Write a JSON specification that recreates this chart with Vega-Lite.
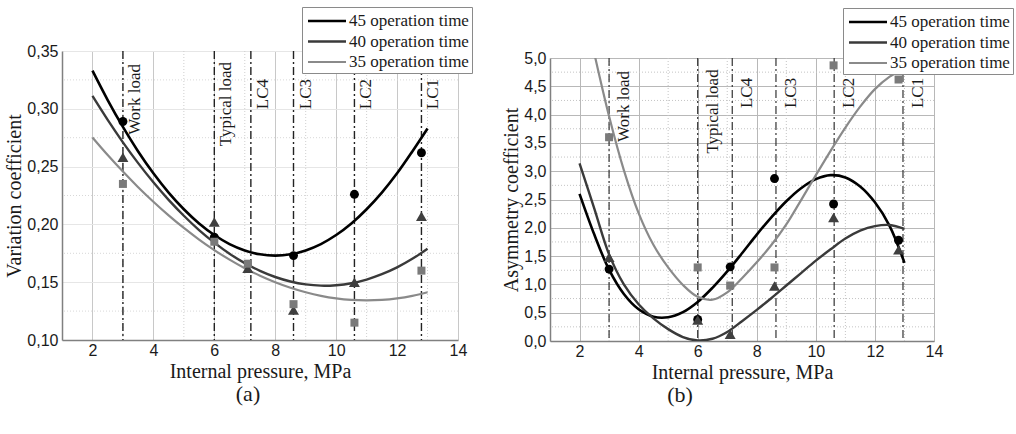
{
"$schema": "https://vega.github.io/schema/vega-lite/v6.json",
"background": "white",
"padding": {"left": 4, "top": 6, "right": 5, "bottom": 5},
"config": {
 "view": {"stroke": null},
 "axis": {"labelFont": "Liberation Sans", "labelFontSize": 16, "labelColor": "#1a1a1a", "titleFont": "Liberation Serif", "titleFontSize": 20, "titleFontWeight": "normal", "titleColor": "#1a1a1a", "domainColor": "#808080", "domainWidth": 1.5, "ticks": false, "labelPadding": 4, "titlePadding": 2},
 "axisX": {"labelPadding": 2, "titlePadding": 3},
 "legend": {"labelFont": "Liberation Serif", "labelFontSize": 17, "labelColor": "#1a1a1a", "symbolType": "M-2,0H2", "symbolSize": 361, "symbolStrokeWidth": 2.4, "symbolOffset": 11, "fillColor": "white", "strokeColor": "#8a8a8a", "padding": 3, "rowPadding": 1.5, "labelOffset": 11, "title": null, "orient": "none"},
 "title": {"font": "Liberation Serif", "fontSize": 22, "fontWeight": "normal", "color": "#1a1a1a"}
},
"datasets": {
 "lgx": [{"x": 3}, {"x": 5}, {"x": 7}, {"x": 9}, {"x": 11}, {"x": 13}],
 "lgy": [{"y": 0.125}, {"y": 0.175}, {"y": 0.225}, {"y": 0.275}, {"y": 0.325}],
 "rgx": [{"x": 3}, {"x": 5}, {"x": 7}, {"x": 9}, {"x": 11}, {"x": 13}],
 "rgy": [{"y": 0.25}, {"y": 0.75}, {"y": 1.25}, {"y": 1.75}, {"y": 2.25}, {"y": 2.75}, {"y": 3.25}, {"y": 3.75}, {"y": 4.25}, {"y": 4.75}],
 "lload": [
  {"x": 3, "y": 0.3388, "label": "Work load"},
  {"x": 6, "y": 0.3405, "label": "Typical load"},
  {"x": 7.2, "y": 0.3258, "label": "LC4"},
  {"x": 8.6, "y": 0.3258, "label": "LC3"},
  {"x": 10.6, "y": 0.3258, "label": "LC2"},
  {"x": 12.8, "y": 0.3258, "label": "LC1"}
 ],
 "rload": [
  {"x": 3, "y": 4.77, "label": "Work load"},
  {"x": 6, "y": 4.8, "label": "Typical load"},
  {"x": 7.17, "y": 4.65, "label": "LC4"},
  {"x": 8.65, "y": 4.65, "label": "LC3"},
  {"x": 10.62, "y": 4.65, "label": "LC2"},
  {"x": 12.95, "y": 4.65, "label": "LC1"}
 ],
 "lp": [
  {"g": "45", "x": 3, "y": 0.289}, {"g": "45", "x": 6, "y": 0.189}, {"g": "45", "x": 8.6, "y": 0.173}, {"g": "45", "x": 10.6, "y": 0.226}, {"g": "45", "x": 12.8, "y": 0.262},
  {"g": "40", "x": 3, "y": 0.258}, {"g": "40", "x": 6, "y": 0.202}, {"g": "40", "x": 7.1, "y": 0.162}, {"g": "40", "x": 8.6, "y": 0.126}, {"g": "40", "x": 10.6, "y": 0.150}, {"g": "40", "x": 12.8, "y": 0.207},
  {"g": "35", "x": 3, "y": 0.235}, {"g": "35", "x": 6, "y": 0.185}, {"g": "35", "x": 7.1, "y": 0.166}, {"g": "35", "x": 8.6, "y": 0.131}, {"g": "35", "x": 10.6, "y": 0.115}, {"g": "35", "x": 12.8, "y": 0.160}
 ],
 "rp": [
  {"g": "45", "x": 3, "y": 1.27}, {"g": "45", "x": 6, "y": 0.38}, {"g": "45", "x": 7.1, "y": 1.31}, {"g": "45", "x": 8.6, "y": 2.87}, {"g": "45", "x": 10.6, "y": 2.42}, {"g": "45", "x": 12.8, "y": 1.78},
  {"g": "40", "x": 3, "y": 1.48}, {"g": "40", "x": 6, "y": 0.37}, {"g": "40", "x": 7.1, "y": 0.12}, {"g": "40", "x": 8.6, "y": 0.97}, {"g": "40", "x": 10.6, "y": 2.18}, {"g": "40", "x": 12.8, "y": 1.61},
  {"g": "35", "x": 3, "y": 3.60}, {"g": "35", "x": 6, "y": 1.30}, {"g": "35", "x": 7.1, "y": 0.98}, {"g": "35", "x": 8.6, "y": 1.30}, {"g": "35", "x": 10.6, "y": 4.87}, {"g": "35", "x": 12.8, "y": 4.62}
 ],
 "lc": [
  {"s": "45 operation time", "x": 2, "y": 0.3330}, {"s": "45 operation time", "x": 2.5, "y": 0.3076}, {"s": "45 operation time", "x": 3, "y": 0.2843}, {"s": "45 operation time", "x": 3.5, "y": 0.2631}, {"s": "45 operation time", "x": 4, "y": 0.2442}, {"s": "45 operation time", "x": 4.5, "y": 0.2275}, {"s": "45 operation time", "x": 5, "y": 0.2131}, {"s": "45 operation time", "x": 5.5, "y": 0.2008}, {"s": "45 operation time", "x": 6, "y": 0.1908}, {"s": "45 operation time", "x": 6.5, "y": 0.1830}, {"s": "45 operation time", "x": 7, "y": 0.1775}, {"s": "45 operation time", "x": 7.5, "y": 0.1741}, {"s": "45 operation time", "x": 8, "y": 0.1730}, {"s": "45 operation time", "x": 8.5, "y": 0.1741}, {"s": "45 operation time", "x": 9, "y": 0.1775}, {"s": "45 operation time", "x": 9.5, "y": 0.1830}, {"s": "45 operation time", "x": 10, "y": 0.1908}, {"s": "45 operation time", "x": 10.5, "y": 0.2008}, {"s": "45 operation time", "x": 11, "y": 0.2131}, {"s": "45 operation time", "x": 11.5, "y": 0.2275}, {"s": "45 operation time", "x": 12, "y": 0.2442}, {"s": "45 operation time", "x": 12.5, "y": 0.2631}, {"s": "45 operation time", "x": 13, "y": 0.2830},
  {"s": "40 operation time", "x": 2, "y": 0.3111}, {"s": "40 operation time", "x": 2.5, "y": 0.2904}, {"s": "40 operation time", "x": 3, "y": 0.2710}, {"s": "40 operation time", "x": 3.5, "y": 0.2530}, {"s": "40 operation time", "x": 4, "y": 0.2364}, {"s": "40 operation time", "x": 4.5, "y": 0.2212}, {"s": "40 operation time", "x": 5, "y": 0.2075}, {"s": "40 operation time", "x": 5.5, "y": 0.1951}, {"s": "40 operation time", "x": 6, "y": 0.1842}, {"s": "40 operation time", "x": 6.5, "y": 0.1746}, {"s": "40 operation time", "x": 7, "y": 0.1665}, {"s": "40 operation time", "x": 7.5, "y": 0.1598}, {"s": "40 operation time", "x": 8, "y": 0.1545}, {"s": "40 operation time", "x": 8.5, "y": 0.1506}, {"s": "40 operation time", "x": 9, "y": 0.1481}, {"s": "40 operation time", "x": 9.5, "y": 0.1470}, {"s": "40 operation time", "x": 10, "y": 0.1474}, {"s": "40 operation time", "x": 10.5, "y": 0.1491}, {"s": "40 operation time", "x": 11, "y": 0.1523}, {"s": "40 operation time", "x": 11.5, "y": 0.1569}, {"s": "40 operation time", "x": 12, "y": 0.1628}, {"s": "40 operation time", "x": 12.5, "y": 0.1702}, {"s": "40 operation time", "x": 13, "y": 0.1790},
  {"s": "35 operation time", "x": 2, "y": 0.2752}, {"s": "35 operation time", "x": 2.5, "y": 0.2600}, {"s": "35 operation time", "x": 3, "y": 0.2457}, {"s": "35 operation time", "x": 3.5, "y": 0.2322}, {"s": "35 operation time", "x": 4, "y": 0.2196}, {"s": "35 operation time", "x": 4.5, "y": 0.2078}, {"s": "35 operation time", "x": 5, "y": 0.1969}, {"s": "35 operation time", "x": 5.5, "y": 0.1869}, {"s": "35 operation time", "x": 6, "y": 0.1778}, {"s": "35 operation time", "x": 6.5, "y": 0.1695}, {"s": "35 operation time", "x": 7, "y": 0.1621}, {"s": "35 operation time", "x": 7.5, "y": 0.1556}, {"s": "35 operation time", "x": 8, "y": 0.1500}, {"s": "35 operation time", "x": 8.5, "y": 0.1452}, {"s": "35 operation time", "x": 9, "y": 0.1413}, {"s": "35 operation time", "x": 9.5, "y": 0.1382}, {"s": "35 operation time", "x": 10, "y": 0.1360}, {"s": "35 operation time", "x": 10.5, "y": 0.1347}, {"s": "35 operation time", "x": 11, "y": 0.1343}, {"s": "35 operation time", "x": 11.5, "y": 0.1347}, {"s": "35 operation time", "x": 12, "y": 0.1360}, {"s": "35 operation time", "x": 12.5, "y": 0.1382}, {"s": "35 operation time", "x": 13, "y": 0.1413}
 ],
 "rc": [
  {"s": "45 operation time", "x": 2, "y": 2.60}, {"s": "45 operation time", "x": 2.5, "y": 1.88}, {"s": "45 operation time", "x": 3, "y": 1.26}, {"s": "45 operation time", "x": 3.5, "y": 0.83}, {"s": "45 operation time", "x": 4, "y": 0.56}, {"s": "45 operation time", "x": 4.5, "y": 0.43}, {"s": "45 operation time", "x": 5, "y": 0.42}, {"s": "45 operation time", "x": 5.5, "y": 0.51}, {"s": "45 operation time", "x": 6, "y": 0.69}, {"s": "45 operation time", "x": 6.5, "y": 0.94}, {"s": "45 operation time", "x": 7, "y": 1.23}, {"s": "45 operation time", "x": 7.5, "y": 1.55}, {"s": "45 operation time", "x": 8, "y": 1.88}, {"s": "45 operation time", "x": 8.5, "y": 2.19}, {"s": "45 operation time", "x": 9, "y": 2.47}, {"s": "45 operation time", "x": 9.5, "y": 2.70}, {"s": "45 operation time", "x": 10, "y": 2.86}, {"s": "45 operation time", "x": 10.5, "y": 2.93}, {"s": "45 operation time", "x": 11, "y": 2.89}, {"s": "45 operation time", "x": 11.5, "y": 2.73}, {"s": "45 operation time", "x": 12, "y": 2.45}, {"s": "45 operation time", "x": 12.5, "y": 2.03}, {"s": "45 operation time", "x": 13, "y": 1.38},
  {"s": "40 operation time", "x": 2, "y": 3.14}, {"s": "40 operation time", "x": 2.5, "y": 2.34}, {"s": "40 operation time", "x": 3, "y": 1.53}, {"s": "40 operation time", "x": 3.5, "y": 1.00}, {"s": "40 operation time", "x": 4, "y": 0.65}, {"s": "40 operation time", "x": 4.5, "y": 0.40}, {"s": "40 operation time", "x": 5, "y": 0.21}, {"s": "40 operation time", "x": 5.5, "y": 0.07}, {"s": "40 operation time", "x": 6, "y": 0.01}, {"s": "40 operation time", "x": 6.5, "y": 0.04}, {"s": "40 operation time", "x": 7, "y": 0.16}, {"s": "40 operation time", "x": 7.5, "y": 0.35}, {"s": "40 operation time", "x": 8, "y": 0.55}, {"s": "40 operation time", "x": 8.5, "y": 0.76}, {"s": "40 operation time", "x": 9, "y": 0.98}, {"s": "40 operation time", "x": 9.5, "y": 1.20}, {"s": "40 operation time", "x": 10, "y": 1.42}, {"s": "40 operation time", "x": 10.5, "y": 1.62}, {"s": "40 operation time", "x": 11, "y": 1.81}, {"s": "40 operation time", "x": 11.5, "y": 1.95}, {"s": "40 operation time", "x": 12, "y": 2.03}, {"s": "40 operation time", "x": 12.5, "y": 2.05}, {"s": "40 operation time", "x": 13, "y": 1.98},
  {"s": "35 operation time", "x": 2.5, "y": 5.08}, {"s": "35 operation time", "x": 3, "y": 3.97}, {"s": "35 operation time", "x": 3.5, "y": 3.02}, {"s": "35 operation time", "x": 4, "y": 2.26}, {"s": "35 operation time", "x": 4.5, "y": 1.70}, {"s": "35 operation time", "x": 5, "y": 1.30}, {"s": "35 operation time", "x": 5.5, "y": 0.99}, {"s": "35 operation time", "x": 6, "y": 0.78}, {"s": "35 operation time", "x": 6.5, "y": 0.73}, {"s": "35 operation time", "x": 7, "y": 0.86}, {"s": "35 operation time", "x": 7.5, "y": 1.11}, {"s": "35 operation time", "x": 8, "y": 1.39}, {"s": "35 operation time", "x": 8.5, "y": 1.70}, {"s": "35 operation time", "x": 9, "y": 2.06}, {"s": "35 operation time", "x": 9.5, "y": 2.49}, {"s": "35 operation time", "x": 10, "y": 2.93}, {"s": "35 operation time", "x": 10.5, "y": 3.36}, {"s": "35 operation time", "x": 11, "y": 3.77}, {"s": "35 operation time", "x": 11.5, "y": 4.14}, {"s": "35 operation time", "x": 12, "y": 4.45}, {"s": "35 operation time", "x": 12.5, "y": 4.67}, {"s": "35 operation time", "x": 13, "y": 4.82}
 ]
},
"bounds": "flush",
"spacing": 92,
"resolve": {"scale": {"x": "independent", "y": "independent", "color": "independent", "strokeWidth": "independent"}, "legend": {"color": "independent"}},
"hconcat": [
 {
  "width": 396, "height": 289,
  "title": {"text": "(a)", "orient": "bottom", "anchor": "middle", "dx": -12, "offset": 3},
  "layer": [
   {"data": {"name": "lgx"}, "mark": {"type": "rule", "color": "#cfcfcf", "strokeDash": [1, 2], "strokeWidth": 1},
    "encoding": {"x": {"field": "x", "type": "quantitative", "scale": {"domain": [1, 14], "nice": false, "zero": false}, "axis": {"values": [2, 4, 6, 8, 10, 12, 14], "grid": true, "gridColor": "#c8c8c8", "title": "Internal pressure, MPa", "labelFlush": false}}}},
   {"data": {"name": "lgy"}, "mark": {"type": "rule", "color": "#d8d8d8", "strokeDash": [1, 2], "strokeWidth": 1},
    "encoding": {"y": {"field": "y", "type": "quantitative", "scale": {"domain": [0.1, 0.35], "nice": false, "zero": false}, "axis": {"values": [0.1, 0.15, 0.2, 0.25, 0.3, 0.35], "grid": true, "gridColor": "#e6e6e6", "title": "Variation coefficient", "labelFlush": false, "labelExpr": "replace(format(datum.value, '.2f'), '.', ',')"}}}},
   {"data": {"name": "lload"}, "mark": {"type": "rule", "color": "#222222", "strokeWidth": 1.4, "strokeDash": [8, 3, 2, 3]},
    "encoding": {"x": {"field": "x", "type": "quantitative", "scale": {"domain": [1, 14], "nice": false, "zero": false}, "axis": {"values": [2, 4, 6, 8, 10, 12, 14], "grid": true, "gridColor": "#c8c8c8", "title": "Internal pressure, MPa", "labelFlush": false}}}},
   {"data": {"name": "lload"}, "mark": {"type": "text", "angle": 270, "align": "right", "baseline": "top", "font": "Liberation Serif", "fontSize": 17, "dy": 4, "color": "#1a1a1a"},
    "encoding": {"x": {"field": "x", "type": "quantitative", "scale": {"domain": [1, 14], "nice": false, "zero": false}, "axis": {"values": [2, 4, 6, 8, 10, 12, 14], "grid": true, "gridColor": "#c8c8c8", "title": "Internal pressure, MPa", "labelFlush": false}}, "y": {"field": "y", "type": "quantitative", "scale": {"domain": [0.1, 0.35], "nice": false, "zero": false}, "axis": {"values": [0.1, 0.15, 0.2, 0.25, 0.3, 0.35], "grid": true, "gridColor": "#e6e6e6", "title": "Variation coefficient", "labelFlush": false, "labelExpr": "replace(format(datum.value, '.2f'), '.', ',')"}}, "text": {"field": "label"}}},
   {"data": {"name": "lc"}, "mark": {"type": "line", "interpolate": "catmull-rom", "clip": true},
    "encoding": {
     "x": {"field": "x", "type": "quantitative", "scale": {"domain": [1, 14], "nice": false, "zero": false}, "axis": {"values": [2, 4, 6, 8, 10, 12, 14], "grid": true, "gridColor": "#c8c8c8", "title": "Internal pressure, MPa", "labelFlush": false}},
     "y": {"field": "y", "type": "quantitative", "scale": {"domain": [0.1, 0.35], "nice": false, "zero": false}, "axis": {"values": [0.1, 0.15, 0.2, 0.25, 0.3, 0.35], "grid": true, "gridColor": "#e6e6e6", "title": "Variation coefficient", "labelFlush": false, "labelExpr": "replace(format(datum.value, '.2f'), '.', ',')"}},
     "color": {"field": "s", "type": "nominal", "scale": {"domain": ["45 operation time", "40 operation time", "35 operation time"], "range": ["#000000", "#3a3a3a", "#8a8a8a"]}, "legend": {"orient": "none", "legendX": 240, "legendY": -44, "title": null}},
     "strokeWidth": {"field": "s", "type": "nominal", "scale": {"domain": ["45 operation time", "40 operation time", "35 operation time"], "range": [2.6, 2.2, 2.2]}, "legend": null}
    }},
   {"data": {"name": "lp"}, "transform": [{"filter": "datum.g == '45'"}], "mark": {"type": "point", "shape": "circle", "filled": true, "opacity": 1, "size": 80, "color": "#000000"},
    "encoding": {
     "x": {"field": "x", "type": "quantitative", "scale": {"domain": [1, 14], "nice": false, "zero": false}, "axis": {"values": [2, 4, 6, 8, 10, 12, 14], "grid": true, "gridColor": "#c8c8c8", "title": "Internal pressure, MPa", "labelFlush": false}},
     "y": {"field": "y", "type": "quantitative", "scale": {"domain": [0.1, 0.35], "nice": false, "zero": false}, "axis": {"values": [0.1, 0.15, 0.2, 0.25, 0.3, 0.35], "grid": true, "gridColor": "#e6e6e6", "title": "Variation coefficient", "labelFlush": false, "labelExpr": "replace(format(datum.value, '.2f'), '.', ',')"}}
    }},
   {"data": {"name": "lp"}, "transform": [{"filter": "datum.g == '40'"}], "mark": {"type": "point", "shape": "triangle-up", "filled": true, "opacity": 1, "size": 120, "color": "#3f3f3f"},
    "encoding": {
     "x": {"field": "x", "type": "quantitative", "scale": {"domain": [1, 14], "nice": false, "zero": false}, "axis": {"values": [2, 4, 6, 8, 10, 12, 14], "grid": true, "gridColor": "#c8c8c8", "title": "Internal pressure, MPa", "labelFlush": false}},
     "y": {"field": "y", "type": "quantitative", "scale": {"domain": [0.1, 0.35], "nice": false, "zero": false}, "axis": {"values": [0.1, 0.15, 0.2, 0.25, 0.3, 0.35], "grid": true, "gridColor": "#e6e6e6", "title": "Variation coefficient", "labelFlush": false, "labelExpr": "replace(format(datum.value, '.2f'), '.', ',')"}}
    }},
   {"data": {"name": "lp"}, "transform": [{"filter": "datum.g == '35'"}], "mark": {"type": "point", "shape": "square", "filled": true, "opacity": 1, "size": 64, "color": "#7a7a7a"},
    "encoding": {
     "x": {"field": "x", "type": "quantitative", "scale": {"domain": [1, 14], "nice": false, "zero": false}, "axis": {"values": [2, 4, 6, 8, 10, 12, 14], "grid": true, "gridColor": "#c8c8c8", "title": "Internal pressure, MPa", "labelFlush": false}},
     "y": {"field": "y", "type": "quantitative", "scale": {"domain": [0.1, 0.35], "nice": false, "zero": false}, "axis": {"values": [0.1, 0.15, 0.2, 0.25, 0.3, 0.35], "grid": true, "gridColor": "#e6e6e6", "title": "Variation coefficient", "labelFlush": false, "labelExpr": "replace(format(datum.value, '.2f'), '.', ',')"}}
    }}
  ]
 },
 {
  "vconcat": [
   {"width": 384, "height": 7, "data": {"values": []}, "mark": {"type": "rule"}, "encoding": {}},
   {
    "width": 384, "height": 283,
    "title": {"text": "(b)", "orient": "bottom", "anchor": "middle", "dx": -62, "offset": 3},
    "layer": [
     {"data": {"name": "rgx"}, "mark": {"type": "rule", "color": "#c4c4c4", "strokeDash": [1, 2], "strokeWidth": 1},
      "encoding": {"x": {"field": "x", "type": "quantitative", "scale": {"domain": [1, 14], "nice": false, "zero": false}, "axis": {"values": [2, 4, 6, 8, 10, 12, 14], "grid": true, "gridColor": "#b8b8b8", "title": "Internal pressure, MPa", "labelFlush": false}}}},
     {"data": {"name": "rgy"}, "mark": {"type": "rule", "color": "#c4c4c4", "strokeDash": [1, 2], "strokeWidth": 1},
      "encoding": {"y": {"field": "y", "type": "quantitative", "scale": {"domain": [0, 5], "nice": false, "zero": false}, "axis": {"values": [0, 0.5, 1, 1.5, 2, 2.5, 3, 3.5, 4, 4.5, 5], "grid": true, "gridColor": "#b8b8b8", "title": "Asymmetry coefficient", "labelFlush": false, "labelExpr": "replace(format(datum.value, '.1f'), '.', ',')"}}}},
     {"data": {"name": "rload"}, "mark": {"type": "rule", "color": "#333333", "strokeWidth": 1.2, "strokeDash": [8, 3, 2, 3]},
      "encoding": {"x": {"field": "x", "type": "quantitative", "scale": {"domain": [1, 14], "nice": false, "zero": false}, "axis": {"values": [2, 4, 6, 8, 10, 12, 14], "grid": true, "gridColor": "#b8b8b8", "title": "Internal pressure, MPa", "labelFlush": false}}}},
     {"data": {"name": "rload"}, "mark": {"type": "text", "angle": 270, "align": "right", "baseline": "top", "font": "Liberation Serif", "fontSize": 17, "dy": 7, "color": "#1a1a1a"},
      "encoding": {"x": {"field": "x", "type": "quantitative", "scale": {"domain": [1, 14], "nice": false, "zero": false}, "axis": {"values": [2, 4, 6, 8, 10, 12, 14], "grid": true, "gridColor": "#b8b8b8", "title": "Internal pressure, MPa", "labelFlush": false}}, "y": {"field": "y", "type": "quantitative", "scale": {"domain": [0, 5], "nice": false, "zero": false}, "axis": {"values": [0, 0.5, 1, 1.5, 2, 2.5, 3, 3.5, 4, 4.5, 5], "grid": true, "gridColor": "#b8b8b8", "title": "Asymmetry coefficient", "labelFlush": false, "labelExpr": "replace(format(datum.value, '.1f'), '.', ',')"}}, "text": {"field": "label"}}},
     {"data": {"name": "rc"}, "mark": {"type": "line", "interpolate": "catmull-rom", "clip": true},
      "encoding": {
       "x": {"field": "x", "type": "quantitative", "scale": {"domain": [1, 14], "nice": false, "zero": false}, "axis": {"values": [2, 4, 6, 8, 10, 12, 14], "grid": true, "gridColor": "#b8b8b8", "title": "Internal pressure, MPa", "labelFlush": false}},
       "y": {"field": "y", "type": "quantitative", "scale": {"domain": [0, 5], "nice": false, "zero": false}, "axis": {"values": [0, 0.5, 1, 1.5, 2, 2.5, 3, 3.5, 4, 4.5, 5], "grid": true, "gridColor": "#b8b8b8", "title": "Asymmetry coefficient", "labelFlush": false, "labelExpr": "replace(format(datum.value, '.1f'), '.', ',')"}},
       "color": {"field": "s", "type": "nominal", "scale": {"domain": ["45 operation time", "40 operation time", "35 operation time"], "range": ["#000000", "#3a3a3a", "#8a8a8a"]}, "legend": {"orient": "none", "legendX": 293, "legendY": -43, "title": null}},
       "strokeWidth": {"field": "s", "type": "nominal", "scale": {"domain": ["45 operation time", "40 operation time", "35 operation time"], "range": [2.6, 2.2, 2.2]}, "legend": null}
      }},
     {"data": {"name": "rp"}, "transform": [{"filter": "datum.g == '45'"}], "mark": {"type": "point", "shape": "circle", "filled": true, "opacity": 1, "size": 80, "color": "#000000"},
      "encoding": {
       "x": {"field": "x", "type": "quantitative", "scale": {"domain": [1, 14], "nice": false, "zero": false}, "axis": {"values": [2, 4, 6, 8, 10, 12, 14], "grid": true, "gridColor": "#b8b8b8", "title": "Internal pressure, MPa", "labelFlush": false}},
       "y": {"field": "y", "type": "quantitative", "scale": {"domain": [0, 5], "nice": false, "zero": false}, "axis": {"values": [0, 0.5, 1, 1.5, 2, 2.5, 3, 3.5, 4, 4.5, 5], "grid": true, "gridColor": "#b8b8b8", "title": "Asymmetry coefficient", "labelFlush": false, "labelExpr": "replace(format(datum.value, '.1f'), '.', ',')"}}
      }},
     {"data": {"name": "rp"}, "transform": [{"filter": "datum.g == '40'"}], "mark": {"type": "point", "shape": "triangle-up", "filled": true, "opacity": 1, "size": 120, "color": "#3f3f3f"},
      "encoding": {
       "x": {"field": "x", "type": "quantitative", "scale": {"domain": [1, 14], "nice": false, "zero": false}, "axis": {"values": [2, 4, 6, 8, 10, 12, 14], "grid": true, "gridColor": "#b8b8b8", "title": "Internal pressure, MPa", "labelFlush": false}},
       "y": {"field": "y", "type": "quantitative", "scale": {"domain": [0, 5], "nice": false, "zero": false}, "axis": {"values": [0, 0.5, 1, 1.5, 2, 2.5, 3, 3.5, 4, 4.5, 5], "grid": true, "gridColor": "#b8b8b8", "title": "Asymmetry coefficient", "labelFlush": false, "labelExpr": "replace(format(datum.value, '.1f'), '.', ',')"}}
      }},
     {"data": {"name": "rp"}, "transform": [{"filter": "datum.g == '35'"}], "mark": {"type": "point", "shape": "square", "filled": true, "opacity": 1, "size": 64, "color": "#7a7a7a"},
      "encoding": {
       "x": {"field": "x", "type": "quantitative", "scale": {"domain": [1, 14], "nice": false, "zero": false}, "axis": {"values": [2, 4, 6, 8, 10, 12, 14], "grid": true, "gridColor": "#b8b8b8", "title": "Internal pressure, MPa", "labelFlush": false}},
       "y": {"field": "y", "type": "quantitative", "scale": {"domain": [0, 5], "nice": false, "zero": false}, "axis": {"values": [0, 0.5, 1, 1.5, 2, 2.5, 3, 3.5, 4, 4.5, 5], "grid": true, "gridColor": "#b8b8b8", "title": "Asymmetry coefficient", "labelFlush": false, "labelExpr": "replace(format(datum.value, '.1f'), '.', ',')"}}
      }}
    ]
   }
  ],
  "spacing": 0,
  "bounds": "flush"
 }
]
}
